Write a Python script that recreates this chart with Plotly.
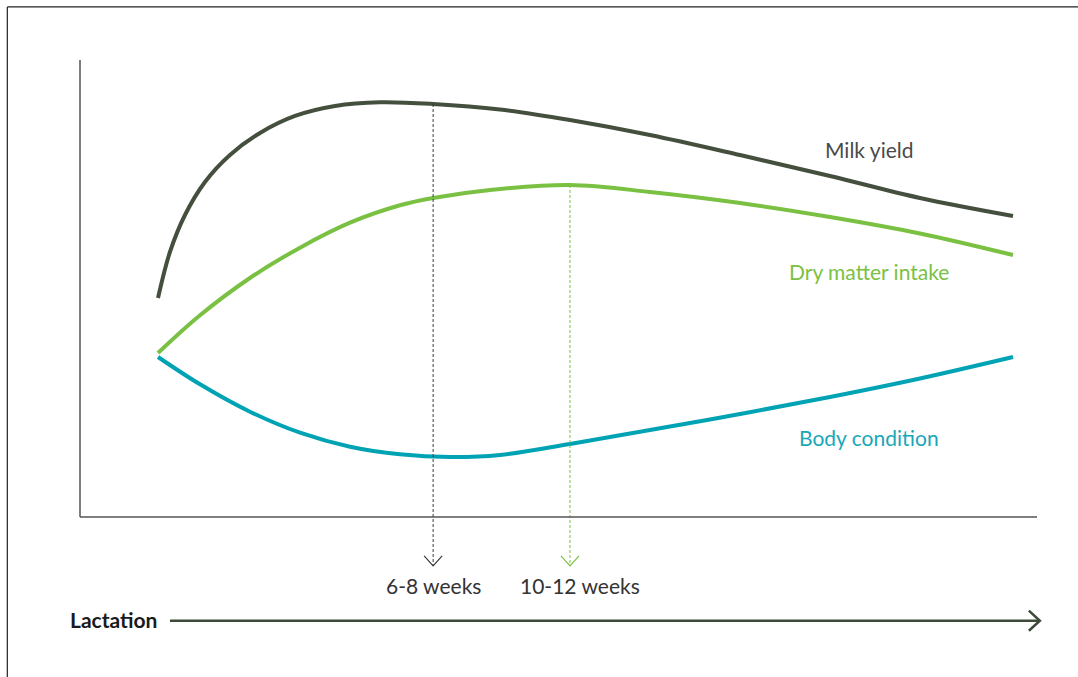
import numpy as np
import plotly.graph_objects as go

# ---- data (relative lactation stage 0-100, relative level 0-100) ----
milk_x = [8.15, 9.40, 10.97, 13.06, 15.67, 18.81, 22.47, 26.65, 31.35, 36.89, 43.89, 51.20, 59.56, 68.97, 78.37, 87.77, 97.49]
milk_y = [47.92, 57.99, 66.08, 73.30, 79.21, 84.03, 87.75, 89.93, 90.74, 90.37, 89.17, 86.87, 83.59, 79.21, 74.62, 69.80, 65.86]

dmi_x = [8.15, 12.54, 17.76, 22.99, 28.21, 33.44, 36.89, 42.84, 51.20, 59.56, 68.97, 78.37, 87.77, 97.49]
dmi_y = [35.89, 44.14, 52.30, 58.93, 64.40, 68.21, 69.80, 71.55, 72.65, 71.12, 68.71, 65.65, 62.04, 57.33]

body_x = [8.15, 12.54, 17.76, 22.99, 28.21, 33.44, 38.66, 43.89, 51.20, 59.56, 68.97, 78.37, 87.77, 97.49]
body_y = [35.01, 29.04, 23.04, 18.45, 15.38, 13.72, 13.13, 13.57, 15.97, 19.04, 22.54, 26.26, 30.31, 35.01]

series_names = ["Milk yield", "Dry matter intake", "Body condition"]
series_colors = ["#454f3e", "#7ac143", "#00a3b4"]
label_colors = ["#4a4a4a", "#7ac143", "#1aa7b8"]

marker_x = [36.9, 51.2]          # peak milk yield / peak intake
marker_labels = ["6-8 weeks", "10-12 weeks"]
marker_colors = ["#3a3a3a", "#7ac143"]
axis_title = "Lactation"

FONT = "Lato"

fig = go.Figure()
for xs, ys, name, col in zip([milk_x, dmi_x, body_x], [milk_y, dmi_y, body_y], series_names, series_colors):
    fig.add_trace(go.Scatter(x=xs, y=ys, mode="lines", name=name,
                             line=dict(color=col, width=4, shape="spline", smoothing=1.0),
                             hoverinfo="skip"))

# dashed drop lines from the curve peaks to below the axis
tip_y = -10.7
tops = [float(np.interp(marker_x[0], milk_x, milk_y)), float(np.interp(marker_x[1], dmi_x, dmi_y))]
shapes = []
for mx, top, col in zip(marker_x, tops, marker_colors):
    fig.add_trace(go.Scatter(x=[mx, mx], y=[top, tip_y], mode="lines",
                             line=dict(color=col, width=1, dash="3px,2px"), hoverinfo="skip"))
    shapes.append(dict(type="path", xref="x", yref="y",
                       path=f"M {mx-0.94} {tip_y+2.2} L {mx} {tip_y} L {mx+0.94} {tip_y+2.2}",
                       line=dict(color=col, width=1.2)))

# axis lines
shapes.append(dict(type="line", xref="x", yref="y", x0=0, x1=0, y0=0, y1=100,
                   line=dict(color="#555555", width=1.5)))
shapes.append(dict(type="line", xref="x", yref="y", x0=0, x1=100, y0=0, y1=0,
                   line=dict(color="#555555", width=1.5)))

# lactation arrow
ay = -22.7
shapes.append(dict(type="line", xref="x", yref="y", x0=9.4, x1=100.2, y0=ay, y1=ay,
                   line=dict(color="#3d4a3a", width=2.5)))
shapes.append(dict(type="path", xref="x", yref="y",
                   path=f"M {100.3-1.15} {ay+2.2} L {100.3} {ay} L {100.3-1.15} {ay-2.2}",
                   line=dict(color="#3d4a3a", width=2.5)))

# frame (top and left edges)
shapes.append(dict(type="line", xref="paper", yref="paper", x0=0.0068, x1=1.0, y0=0.9897, y1=0.9897,
                   line=dict(color="#222222", width=1.2)))
shapes.append(dict(type="line", xref="paper", yref="paper", x0=0.0068, x1=0.0068, y0=0.0, y1=0.9897,
                   line=dict(color="#222222", width=1.2)))

annotations = []
label_pos = [(82.45, 80.5), (82.45, 53.8), (82.45, 17.5)]
for (lx, ly), name, col in zip(label_pos, series_names, label_colors):
    annotations.append(dict(x=lx, y=ly, xref="x", yref="y", text=name, showarrow=False,
                            font=dict(family=FONT, size=21, color=col), xanchor="center", yanchor="middle"))
week_label_x = [36.9, 52.25]
for lx, txt in zip(week_label_x, marker_labels):
    annotations.append(dict(x=lx, y=-14.9, xref="x", yref="y", text=txt, showarrow=False,
                            font=dict(family=FONT, size=21, color="#333333"), xanchor="center", yanchor="middle"))
annotations.append(dict(x=-1.25, y=-22.4, xref="x", yref="y", text="<b>" + axis_title + "</b>", showarrow=False,
                        font=dict(family=FONT, size=21, color="#1a1a1a"), xanchor="left", yanchor="middle"))

fig.update_layout(
    width=1078, height=677,
    margin=dict(l=0, r=0, t=0, b=0),
    paper_bgcolor="white", plot_bgcolor="white",
    showlegend=False,
    xaxis=dict(range=[-80/9.57, 998/9.57], visible=False, fixedrange=True),
    yaxis=dict(range=[-160/4.57, 517/4.57], visible=False, fixedrange=True),
    shapes=shapes, annotations=annotations,
)

fig.write_html("out.html", config={"displayModeBar": False},
               post_script="document.body.style.margin='0';")
